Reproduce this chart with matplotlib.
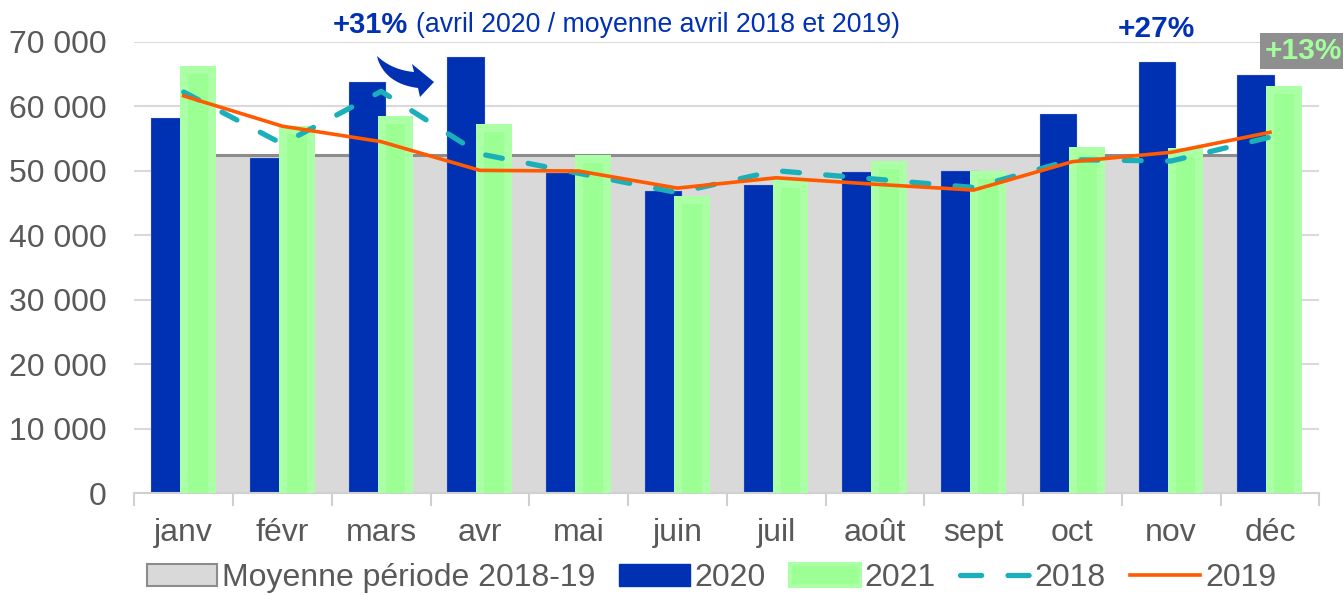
import numpy as np
import matplotlib
matplotlib.use("Agg")
import matplotlib.pyplot as plt
from matplotlib.patches import Patch, Polygon
from matplotlib.lines import Line2D

plt.rcParams["font.family"] = ["Liberation Sans", "DejaVu Sans"]

# ---- data ----
MONTHS = ["janv", "févr", "mars", "avr", "mai", "juin",
          "juil", "août", "sept", "oct", "nov", "déc"]
v2020 = [58100, 51900, 63750, 67600, 49700, 46850, 47800, 49850, 49950, 58750, 66800, 64850]
v2021 = [66300, 56900, 58500, 57200, 52400, 46100, 48600, 51500, 49950, 53700, 53450, 63200]
v2018 = [62200, 54150, 62300, 52600, 49600, 46600, 50000, 48700, 47400, 51700, 51500, 55200]
v2019 = [61600, 56900, 54500, 50050, 49950, 47300, 48900, 47900, 47000, 51400, 52850, 55950]
moy_1819 = [52450, 52450, 52450, 52450, 52450, 52450, 52450, 52450, 52450, 52450, 52450, 52450]
YTICKS = [0, 10000, 20000, 30000, 40000, 50000, 60000, 70000]

BLUE = "#0031b3"
GREEN_OUT = "#abffa5"
GREEN_IN = "#9cff94"
TEAL = "#1aafb9"
ORANGE = "#ff5a00"
GREY_TXT = "#595959"
FS = 23

W, H = 1343, 595
fig = plt.figure(figsize=(W / 100, H / 100), dpi=100)
ax = fig.add_axes([134.3 / W, 1 - 493.2 / H, 1185 / W, (493.2 - 41.7) / H])

x = np.arange(len(MONTHS))

# grid + grey average area
ax.set_ylim(0, 70000)
ax.set_xlim(-0.5, 11.5)
for t in YTICKS[1:]:
    ax.axhline(t, color="#d9d9d9", lw=1.5, zorder=0)
ax.fill_between(x, 0, moy_1819, color="#d9d9d9", lw=0, zorder=1)
ax.plot(x, moy_1819, color="#8c8c8c", lw=2.2, zorder=1.5)

# bars
ax.bar(x - 0.145, v2020, width=0.37, color=BLUE, edgecolor="#1b42b8", lw=0.8, zorder=2)
ax.bar(x + 0.145, v2021, width=0.36, color=GREEN_OUT, lw=0, zorder=3)
ax.bar(x + 0.145, np.array(v2021) - 1250, width=0.2, color=GREEN_IN, lw=0, zorder=3.1)

# lines
ax.plot(x, v2018, color=TEAL, lw=3.8, dashes=(3.2, 5.0), dash_capstyle="round", zorder=4)
ax.plot(x, v2019, color=ORANGE, lw=2.6, zorder=5)

# axes styling
for s in ["left", "right", "top"]:
    ax.spines[s].set_visible(False)
ax.spines["bottom"].set_color("#d0d0d0")
ax.spines["bottom"].set_linewidth(1.5)
ax.set_yticks(YTICKS)
ax.set_yticklabels([f"{t:,}".replace(",", " ") for t in YTICKS])
ax.tick_params(axis="y", length=0, pad=20, labelsize=FS, labelcolor=GREY_TXT)
ax.set_xticks(np.arange(-0.5, 12, 1))
ax.set_xticklabels([])
ax.tick_params(axis="x", which="major", length=9, width=1.5, color="#d0d0d0")
ax.set_xticks(x, minor=True)
ax.set_xticklabels(MONTHS, minor=True)
ax.tick_params(axis="x", which="minor", length=0, pad=18, labelsize=FS, labelcolor=GREY_TXT)

# annotations
fig.text(333 / W, 1 - 25 / H, "+31%", fontsize=21, fontweight="bold", color=BLUE,
         ha="left", va="center")
fig.text(416 / W, 1 - 25 / H, "(avril 2020 / moyenne avril 2018 et 2019)", fontsize=19.2,
         color=BLUE, ha="left", va="center")
fig.text(1156 / W, 1 - 29 / H, "+27%", fontsize=21.5, fontweight="bold", color=BLUE,
         ha="center", va="center")
fig.text(1303 / W, 1 - 51 / H, "+13%", fontsize=21.5, fontweight="bold", color="#a3ff9c",
         ha="center", va="center",
         bbox=dict(boxstyle="square,pad=0.13", facecolor="#8f8f8f", edgecolor="none"))

# curved arrow (pixel coords of the sketch shape)
def qbez(p0, c, p1, n=20):
    t = np.linspace(0, 1, n)[:, None]
    return (1 - t) ** 2 * np.array(p0) + 2 * (1 - t) * t * np.array(c) + t ** 2 * np.array(p1)

top = qbez((377, 56), (392, 70), (414, 72))
bot = qbez((418, 88), (387, 84), (378, 60))
head = np.array([(412, 64), (434, 82), (420, 97)])
pts = np.vstack([top, head, bot])
pts = np.column_stack([pts[:, 0] / W, 1 - pts[:, 1] / H])
fig.patches.append(Polygon(pts, closed=True, transform=fig.transFigure,
                           facecolor=BLUE, edgecolor="none"))

# legend
handles = [
    Patch(facecolor="#d9d9d9", edgecolor="#8c8c8c", lw=1.5),
    Patch(facecolor=BLUE, edgecolor=BLUE),
    Patch(facecolor=GREEN_IN, edgecolor=GREEN_OUT, lw=3),
    Line2D([], [], color=TEAL, lw=3.8, dashes=(4, 5), dash_capstyle="round"),
    Line2D([], [], color=ORANGE, lw=2.6),
]
labels = ["Moyenne période 2018-19", "2020", "2021", "2018", "2019"]
leg = fig.legend(handles, labels, loc="center", bbox_to_anchor=(711.5 / W, 1 - 578 / H),
                 ncol=5, frameon=False, fontsize=FS, handlelength=2.2, handleheight=0.7,
                 handletextpad=0.15, columnspacing=0.75, borderaxespad=0)
for t in leg.get_texts():
    t.set_color(GREY_TXT)

fig.savefig("out.png", dpi=100)
